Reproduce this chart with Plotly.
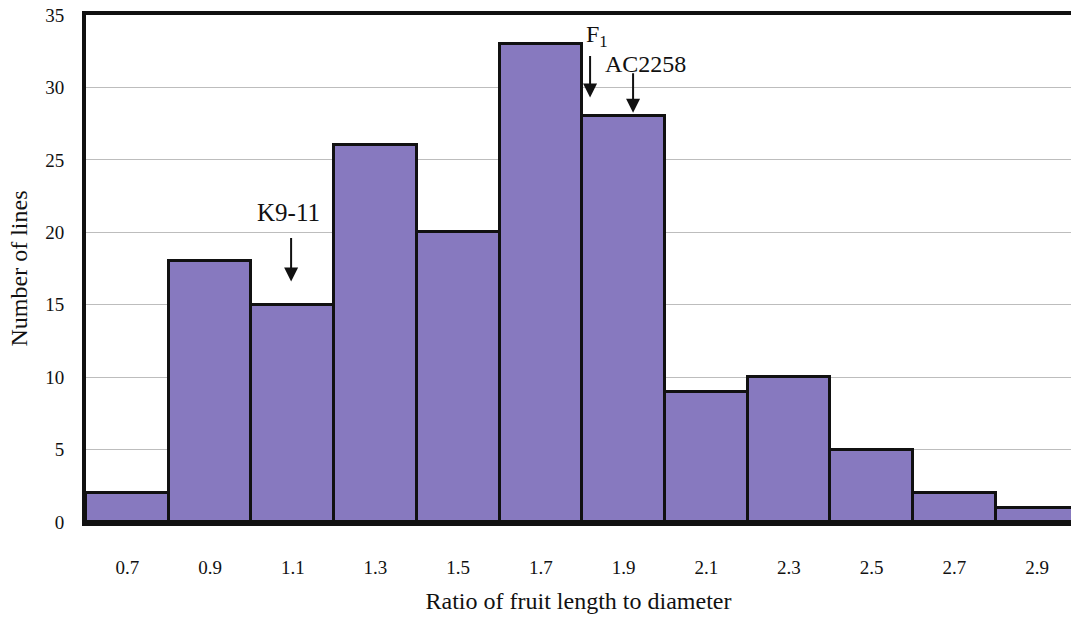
import plotly.graph_objects as go

ratio_bins = [0.7, 0.9, 1.1, 1.3, 1.5, 1.7, 1.9, 2.1, 2.3, 2.5, 2.7, 2.9]
counts = [2, 18, 15, 26, 20, 33, 28, 9, 10, 5, 2, 1]
tick_labels = ["0.7", "0.9", "1.1", "1.3", "1.5", "1.7", "1.9", "2.1", "2.3", "2.5", "2.7", "2.9"]
y_ticks = [0, 5, 10, 15, 20, 25, 30, 35]

FONT = "Liberation Serif, Times New Roman, serif"

fig = go.Figure()
fig.add_trace(go.Bar(
    x=ratio_bins, y=counts, width=0.2,
    marker=dict(color="#8779bf", line=dict(color="#111111", width=3)),
    showlegend=False,
))

annots = [
    # arrows
    dict(x=1.096, y=16.6, ax=0, ay=-45, text="", showarrow=True,
         arrowhead=2, arrowsize=1.4, arrowwidth=2, arrowcolor="#111"),
    dict(x=1.819, y=29.3, ax=0, ay=-43, text="", showarrow=True,
         arrowhead=2, arrowsize=1.4, arrowwidth=2, arrowcolor="#111"),
    dict(x=1.923, y=28.25, ax=0, ay=-41, text="", showarrow=True,
         arrowhead=2, arrowsize=1.4, arrowwidth=2, arrowcolor="#111"),
    # labels
    dict(x=1.089, y=21.4, text="K9-11", showarrow=False,
         font=dict(size=25, family=FONT, color="#111")),
    dict(x=1.805, y=33.55, text="F<sub>1</sub>", showarrow=False, xanchor="left",
         font=dict(size=24, family=FONT, color="#111")),
    dict(x=1.954, y=31.6, text="AC2258", showarrow=False,
         font=dict(size=24, family=FONT, color="#111")),
]

fig.update_layout(
    width=1071, height=621,
    margin=dict(l=86, r=0, t=15, b=99),
    paper_bgcolor="white", plot_bgcolor="white",
    bargap=0,
    font=dict(family=FONT, size=19, color="#111"),
    annotations=annots,
    xaxis=dict(
        range=[0.6, 2.982],
        tickvals=ratio_bins, ticktext=tick_labels,
        ticks="", showgrid=False, zeroline=False,
        showline=True, linecolor="#111", linewidth=4, mirror=True,
        ticklabelstandoff=25,
        tickfont=dict(size=19, family=FONT),
        title=dict(text="Ratio of fruit length to diameter",
                   font=dict(size=24, family=FONT), standoff=16),
    ),
    yaxis=dict(
        range=[0, 35],
        tickvals=y_ticks,
        ticks="", showgrid=True, gridcolor="#bdbdbd", gridwidth=1,
        zeroline=False,
        showline=True, linecolor="#111", linewidth=4, mirror=False,
        ticklabelstandoff=14,
        tickfont=dict(size=19, family=FONT),
        title=dict(text="Number of lines",
                   font=dict(size=24, family=FONT), standoff=12),
    ),
)

fig.write_html("out.html")
